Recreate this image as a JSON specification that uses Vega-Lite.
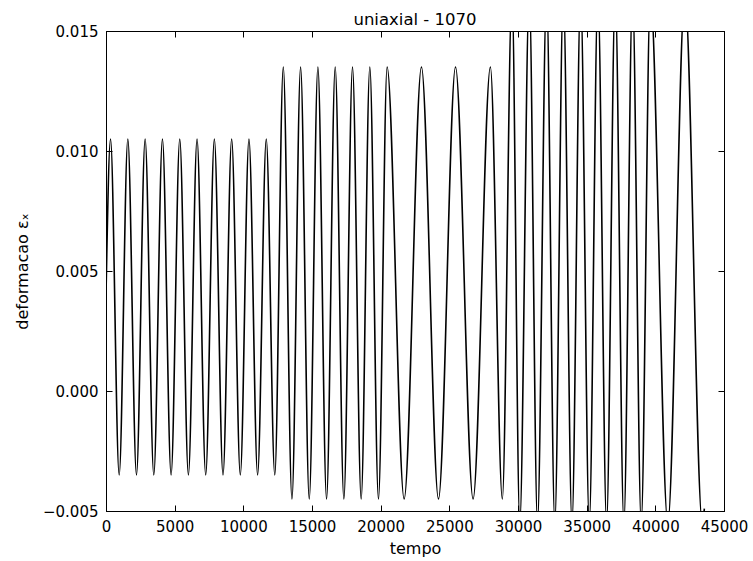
{
  "$schema": "https://vega.github.io/schema/vega-lite/v6.json",
  "width": 618,
  "height": 480,
  "autosize": {"type": "none"},
  "padding": {"left": 106, "top": 31, "right": 29, "bottom": 50},
  "background": "white",
  "title": {"text": "uniaxial - 1070", "font": "DejaVu Sans", "fontSize": 16.5, "fontWeight": "normal", "color": "black", "offset": -4},
  "config": {
    "view": {"stroke": "black", "strokeWidth": 1},
    "axis": {
      "grid": false,
      "domainColor": "black",
      "tickColor": "black",
      "tickSize": -6,
      "tickWidth": 1,
      "labelFont": "DejaVu Sans",
      "labelFontSize": 15,
      "labelColor": "black",
      "labelOverlap": false,
      "labelFlush": false,
      "labelBound": false,
      "titleFont": "DejaVu Sans",
      "titleFontSize": 16,
      "titleFontWeight": "normal",
      "titleColor": "black"
    }
  },
  "data": {
    "values": [
      {"t": 0, "e": 0.004},
      {"t": 330, "e": 0.0105}, {"t": 960, "e": -0.0035},
      {"t": 1590, "e": 0.0105}, {"t": 2220, "e": -0.0035},
      {"t": 2850, "e": 0.0105}, {"t": 3480, "e": -0.0035},
      {"t": 4110, "e": 0.0105}, {"t": 4740, "e": -0.0035},
      {"t": 5370, "e": 0.0105}, {"t": 6000, "e": -0.0035},
      {"t": 6630, "e": 0.0105}, {"t": 7260, "e": -0.0035},
      {"t": 7890, "e": 0.0105}, {"t": 8520, "e": -0.0035},
      {"t": 9150, "e": 0.0105}, {"t": 9780, "e": -0.0035},
      {"t": 10410, "e": 0.0105}, {"t": 11040, "e": -0.0035},
      {"t": 11670, "e": 0.0105}, {"t": 12290, "e": -0.0035},
      {"t": 12910, "e": 0.0135}, {"t": 13540, "e": -0.0045},
      {"t": 14170, "e": 0.0135}, {"t": 14800, "e": -0.0045},
      {"t": 15430, "e": 0.0135}, {"t": 16060, "e": -0.0045},
      {"t": 16690, "e": 0.0135}, {"t": 17320, "e": -0.0045},
      {"t": 17950, "e": 0.0135}, {"t": 18580, "e": -0.0045},
      {"t": 19210, "e": 0.0135}, {"t": 19840, "e": -0.0045},
      {"t": 20470, "e": 0.0135}, {"t": 21710, "e": -0.0045},
      {"t": 22970, "e": 0.0135}, {"t": 24210, "e": -0.0045},
      {"t": 25450, "e": 0.0135}, {"t": 26730, "e": -0.0045},
      {"t": 27990, "e": 0.0135}, {"t": 28860, "e": -0.0045},
      {"t": 29560, "e": 0.0165}, {"t": 30130, "e": -0.0055},
      {"t": 30820, "e": 0.0165}, {"t": 31420, "e": -0.0055},
      {"t": 32080, "e": 0.0165}, {"t": 32680, "e": -0.0055},
      {"t": 33300, "e": 0.0165}, {"t": 33930, "e": -0.0055},
      {"t": 34560, "e": 0.0165}, {"t": 35190, "e": -0.0055},
      {"t": 35820, "e": 0.0165}, {"t": 36450, "e": -0.0055},
      {"t": 37080, "e": 0.0165}, {"t": 37710, "e": -0.0055},
      {"t": 38340, "e": 0.0165}, {"t": 38970, "e": -0.0055},
      {"t": 39640, "e": 0.0165}, {"t": 40910, "e": -0.0055},
      {"t": 42150, "e": 0.0165}, {"t": 43420, "e": -0.0055},
      {"t": 43570, "e": -0.0049}
    ]
  },
  "layer": [
    {
      "mark": {"type": "line", "interpolate": "monotone", "clip": true, "color": "black", "strokeWidth": 1.6},
      "encoding": {
        "x": {"field": "t", "type": "quantitative", "scale": {"domain": [0, 45000], "nice": false, "zero": false},
              "axis": {"orient": "bottom", "title": "tempo", "values": [0, 5000, 10000, 15000, 20000, 25000, 30000, 35000, 40000, 45000], "format": "d", "labelPadding": 14, "titlePadding": 6}},
        "y": {"field": "e", "type": "quantitative", "scale": {"domain": [-0.005, 0.015], "nice": false, "zero": false},
              "axis": {"orient": "left", "title": "deformacao εₓ", "values": [-0.005, 0, 0.005, 0.01, 0.015], "format": ".3f", "labelPadding": 14, "titlePadding": 12}}
      }
    },
    {
      "mark": {"type": "line", "clip": true, "strokeOpacity": 0},
      "encoding": {
        "x": {"field": "t", "type": "quantitative", "scale": {"domain": [0, 45000], "nice": false, "zero": false},
              "axis": {"orient": "top", "title": null, "labels": false, "values": [0, 5000, 10000, 15000, 20000, 25000, 30000, 35000, 40000, 45000]}},
        "y": {"field": "e", "type": "quantitative", "scale": {"domain": [-0.005, 0.015], "nice": false, "zero": false},
              "axis": {"orient": "right", "title": null, "labels": false, "values": [-0.005, 0, 0.005, 0.01, 0.015]}}
      }
    }
  ],
  "resolve": {"axis": {"x": "independent", "y": "independent"}}
}
